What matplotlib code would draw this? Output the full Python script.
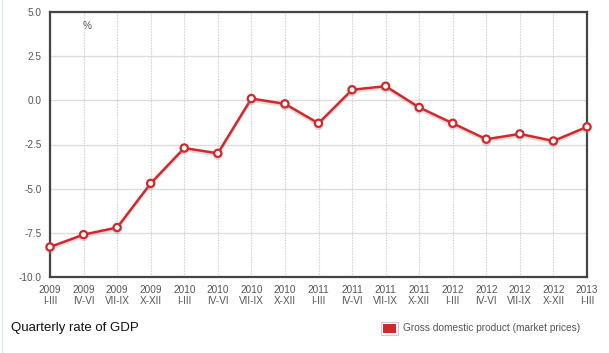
import matplotlib
matplotlib.use("Agg")
import matplotlib.pyplot as plt
import matplotlib.patheffects as pe
from matplotlib import rcParams
from matplotlib.patches import Rectangle

rcParams['font.family'] = ['Liberation Sans', 'DejaVu Sans']
rcParams['font.size'] = 7

# Data
years = ['2009', '2009', '2009', '2009', '2010', '2010', '2010', '2010',
         '2011', '2011', '2011', '2011', '2012', '2012', '2012', '2012', '2013']
quarters = ['I-III', 'IV-VI', 'VII-IX', 'X-XII'] * 4 + ['I-III']
gdp = [-8.3, -7.6, -7.2, -4.7, -2.7, -3.0, 0.1, -0.2, -1.3,
       0.6, 0.8, -0.4, -1.3, -2.2, -1.9, -2.3, -1.5]
y_ticks = [5.0, 2.5, 0.0, -2.5, -5.0, -7.5, -10.0]

line_color = '#d0282c'
text_color = '#555555'
spine_color = '#444444'

fig = plt.figure(figsize=(6.09, 3.53), dpi=100)
ax = fig.add_axes([50 / 609, 1 - 277 / 353, 537 / 609, 265 / 353])

x = list(range(len(gdp)))
ax.plot(x, gdp, color=line_color, lw=1.8, marker='o', ms=5.2,
        mfc='white', mec=line_color, mew=1.6, zorder=3, clip_on=False,
        path_effects=[pe.SimpleLineShadow(offset=(0, -1.5), shadow_color='#999999', alpha=0.35),
                      pe.Normal()])

ax.set_xlim(0, len(gdp) - 1)
ax.set_ylim(-10, 5)
ax.set_yticks(y_ticks)
ax.set_yticklabels([f'{v:.1f}' for v in y_ticks])
ax.set_xticks(x)
ax.set_xticklabels([f'{yr}\n{q}' for yr, q in zip(years, quarters)],
                   linespacing=1.05)
ax.tick_params(length=0, colors=text_color, labelsize=7.2)
ax.tick_params(axis='x', pad=6)
ax.tick_params(axis='y', pad=6)

for yv in y_ticks:
    ax.axhline(yv, color='#dddddd', lw=1, zorder=0)
for xv in x:
    ax.axvline(xv, color='#d4d4d4', lw=0.8, ls=(0, (1.5, 1)), zorder=0)

for side in ['left', 'bottom', 'top', 'right']:
    ax.spines[side].set_color(spine_color)
    ax.spines[side].set_linewidth(1.6)

ax.text(1.12, 4.2, '%', color=text_color, fontsize=7.2, ha='center', va='center')

# left page border
fig.add_artist(plt.Line2D([2 / 609, 2 / 609], [0, 1], color='#dbe6f2', lw=1))

fig.text(11 / 609, 1 - 328 / 353, 'Quarterly rate of GDP', fontsize=9.5,
         color='#111111', va='center', ha='left')

fig.add_artist(Rectangle((381 / 609, 1 - 335 / 353), 17 / 609, 13 / 353,
                         transform=fig.transFigure, facecolor='white',
                         edgecolor='#cccccc', lw=0.8))
fig.add_artist(Rectangle((383 / 609, 1 - 333 / 353), 13 / 609, 9 / 353,
                         transform=fig.transFigure, facecolor=line_color,
                         edgecolor='none'))
fig.text(403 / 609, 1 - 328 / 353, 'Gross domestic product (market prices)',
         fontsize=7.3, color=text_color, va='center', ha='left')

fig.savefig('out.png', dpi=100)
